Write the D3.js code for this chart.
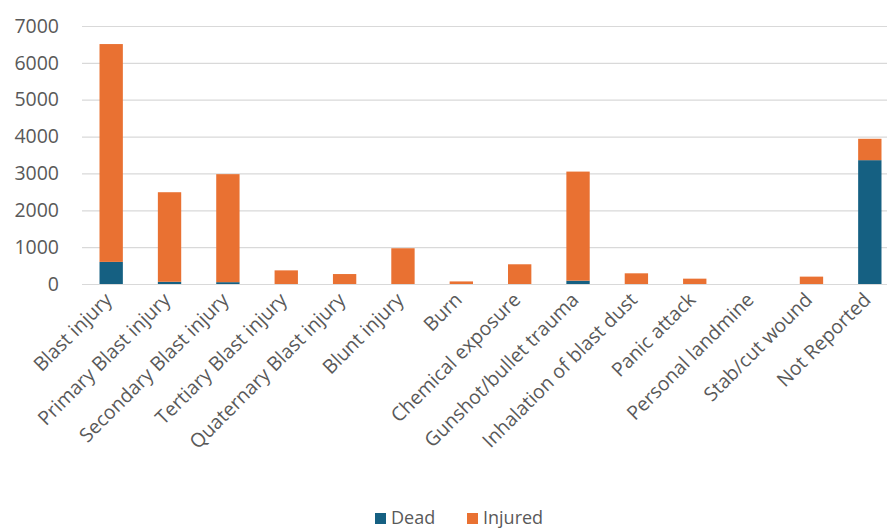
<!DOCTYPE html>
<html>
<head>
<meta charset="utf-8">
<script src="https://cdn.jsdelivr.net/npm/d3@7"></script>
<style>
  body { margin: 0; background: white; }
  svg { display: block; }
</style>
</head>
<body>
<div id="chart"></div>
<script>
    // categories and series values
    var categories = ["Blast injury", "Primary Blast injury", "Secondary Blast injury", "Tertiary Blast injury",
      "Quaternary Blast injury", "Blunt injury", "Burn", "Chemical exposure", "Gunshot/bullet trauma",
      "Inhalation of blast dust", "Panic attack", "Personal landmine", "Stab/cut wound", "Not Reported"];
    var dead = [600, 60, 50, 0, 0, 0, 0, 0, 90, 0, 0, 0, 0, 3360];
    var injured = [5910, 2430, 2930, 370, 270, 970, 70, 535, 2960, 290, 145, 0, 200, 580];
    var yTicks = [0, 1000, 2000, 3000, 4000, 5000, 6000, 7000];
    var seriesNames = ["Dead", "Injured"];

    //Color Palette
    var deadColor = "#156082";
    var injuredColor = "#E97132";
    var gridColor = "#d9d9d9";
    var textColor = "#595959";
    var fontFam = "'Open Sans', 'Liberation Sans', sans-serif";

    const width = 887, height = 531;

    const svg = d3.select("#chart")
      .append("svg")
      .attr("width", width)
      .attr("height", height);

    const x = d3.scaleBand()
      .domain(categories)
      .range([82, 899])
      .paddingInner(0.6)
      .paddingOuter(0.3);

    const y = d3.scaleLinear()
      .domain([0, 7000])
      .range([284, 26]);

    // gridlines
    svg.append("g")
      .selectAll("line")
      .data(yTicks)
      .enter()
      .append("line")
      .attr("x1", 82)
      .attr("x2", 887)
      .attr("y1", d => y(d) + 0.5)
      .attr("y2", d => y(d) + 0.5)
      .attr("stroke", gridColor)
      .attr("stroke-width", 1.2);

    // y axis labels
    svg.append("g")
      .attr("transform", "translate(59,0)")
      .call(d3.axisLeft(y).tickValues(yTicks).tickSize(0).tickPadding(0).tickFormat(d3.format("d")))
      .call(g => g.select(".domain").remove())
      .selectAll("text")
      .attr("fill", textColor)
      .style("font-family", fontFam)
      .style("font-size", "19.5px");

    // stacked data
    var rows = categories.map(function (c, i) {
      return { cat: c, Dead: dead[i], Injured: injured[i] };
    });
    var stacked = d3.stack().keys(seriesNames)(rows);
    var colors = { Dead: deadColor, Injured: injuredColor };

    svg.append("g")
      .selectAll("g")
      .data(stacked)
      .enter()
      .append("g")
      .attr("fill", d => colors[d.key])
      .selectAll("rect")
      .data(d => d)
      .enter()
      .append("rect")
      .attr("x", d => x(d.data.cat))
      .attr("width", x.bandwidth())
      .attr("y", d => y(d[1]))
      .attr("height", d => y(d[0]) - y(d[1]));

    // x axis labels rotated
    svg.append("g")
      .attr("transform", "translate(0,284)")
      .call(d3.axisBottom(x).tickSize(0).tickPadding(0))
      .call(g => g.select(".domain").remove())
      .selectAll("text")
      .attr("fill", textColor)
      .style("font-family", fontFam)
      .style("font-size", "19.5px")
      .style("text-anchor", "end")
      .attr("dy", 0)
      .attr("transform", "translate(2,17) rotate(-45)");

    // legend
    var legend = svg.append("g").attr("transform", "translate(375,524)");
    var legendX = [0, 92];
    seriesNames.forEach(function (name, i) {
      legend.append("rect")
        .attr("x", legendX[i])
        .attr("y", -11)
        .attr("width", 11)
        .attr("height", 11)
        .attr("fill", colors[name]);
      legend.append("text")
        .attr("x", legendX[i] + 16)
        .attr("y", 0)
        .attr("fill", textColor)
        .style("font-family", fontFam)
        .style("font-size", "18px")
        .text(name);
    });
</script>
</body>
</html>
